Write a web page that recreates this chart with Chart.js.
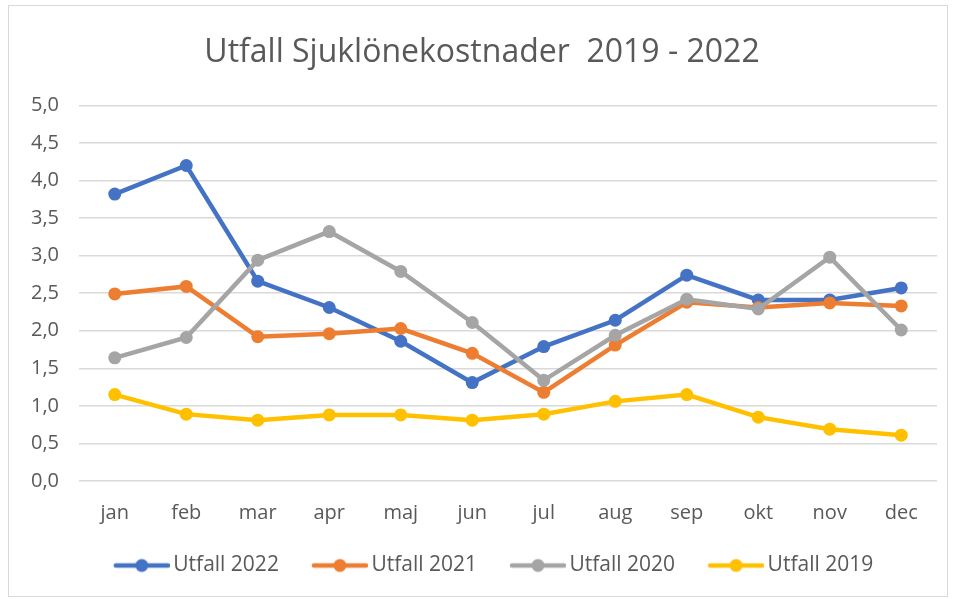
<!DOCTYPE html>
<html>
<head>
<meta charset="utf-8">
<script src="https://cdn.jsdelivr.net/npm/chart.js@4"></script>
<style>
  body { margin: 0; background: #fff; }
  #box { position: absolute; left: 8px; top: 5px; width: 940px; height: 592px; border: 1px solid #d9d9d9; box-sizing: border-box; }
</style>
</head>
<body>
<div id="box"><canvas id="sjukChart" width="938" height="590"></canvas></div>
<script>
const manader = ['jan', 'feb', 'mar', 'apr', 'maj', 'jun', 'jul', 'aug', 'sep', 'okt', 'nov', 'dec'];
const utfall2022 = [3.82, 4.20, 2.66, 2.31, 1.86, 1.31, 1.79, 2.14, 2.74, 2.41, 2.41, 2.57];
const utfall2021 = [2.49, 2.59, 1.92, 1.96, 2.03, 1.70, 1.18, 1.81, 2.38, 2.31, 2.37, 2.33];
const utfall2020 = [1.64, 1.91, 2.94, 3.32, 2.79, 2.11, 1.34, 1.94, 2.42, 2.29, 2.98, 2.01];
const utfall2019 = [1.15, 0.89, 0.81, 0.88, 0.88, 0.81, 0.89, 1.06, 1.15, 0.85, 0.69, 0.61];

const serier = [
    { namn: 'Utfall 2022', data: utfall2022, farg: '#4472C4' },
    { namn: 'Utfall 2021', data: utfall2021, farg: '#ED7D31' },
    { namn: 'Utfall 2020', data: utfall2020, farg: '#A5A5A5' },
    { namn: 'Utfall 2019', data: utfall2019, farg: '#FFC000' }
];

const typsnitt = "'Open Sans', sans-serif";
const textFarg = '#595959';

// liten bild med linje och punkt till förklaringen (linjen ligger i högra delen av bilden)
function legendIkon(farg) {
    const c = document.createElement('canvas');
    c.width = 86; c.height = 16;
    const g = c.getContext('2d');
    g.strokeStyle = farg;
    g.lineWidth = 4.5;
    g.lineCap = 'round';
    g.beginPath(); g.moveTo(32, 8); g.lineTo(84, 8); g.stroke();
    g.fillStyle = farg;
    g.beginPath(); g.arc(58, 8, 6.5, 0, Math.PI * 2); g.fill();
    return c;
}

const ctx = document.getElementById('sjukChart').getContext('2d');
new Chart(ctx, {
    type: 'line',
    data: {
        labels: manader,
        datasets: serier.map((s, i) => ({
            label: s.namn,
            data: s.data,
            borderColor: s.farg,
            backgroundColor: s.farg,
            borderWidth: 4.5,
            pointRadius: 6.5,
            pointHoverRadius: 6.5,
            pointBorderWidth: 0,
            pointStyle: 'circle',
            tension: 0,
            order: serier.length - i
        }))
    },
    options: {
        responsive: false,
        animation: false,
        layout: { padding: { left: 18, right: 10, top: 0, bottom: 10 } },
        plugins: {
            title: {
                display: true,
                text: 'Utfall Sjuklönekostnader  2019 - 2022',
                color: textFarg,
                font: { family: typsnitt, size: 32, weight: 'normal' },
                padding: { top: 28, bottom: 33 }
            },
            legend: {
                position: 'bottom',
                labels: {
                    usePointStyle: true,
                    pointStyleWidth: 72,
                    color: textFarg,
                    font: { family: typsnitt, size: 21 },
                    padding: 10,
                    generateLabels: chart => chart.data.datasets.map((d, i) => ({
                        text: d.label,
                        fillStyle: d.borderColor,
                        strokeStyle: d.borderColor,
                        pointStyle: legendIkon(d.borderColor),
                        lineWidth: 0,
                        hidden: false,
                        datasetIndex: i,
                        fontColor: textFarg
                    }))
                }
            },
            tooltip: { enabled: false }
        },
        scales: {
            x: {
                offset: true,
                grid: { display: false, drawTicks: false },
                border: { display: false },
                ticks: { color: textFarg, font: { family: typsnitt, size: 20 }, padding: 20 }
            },
            y: {
                min: 0,
                max: 5,
                afterFit: s => { s.width = 52; },
                grid: { color: '#d9d9d9', lineWidth: 1.5, drawTicks: false },
                border: { display: false },
                ticks: {
                    stepSize: 0.5,
                    color: textFarg,
                    font: { family: typsnitt, size: 20 },
                    padding: 20,
                    callback: v => v.toFixed(1).replace('.', ',')
                }
            }
        }
    }
});
</script>
</body>
</html>
